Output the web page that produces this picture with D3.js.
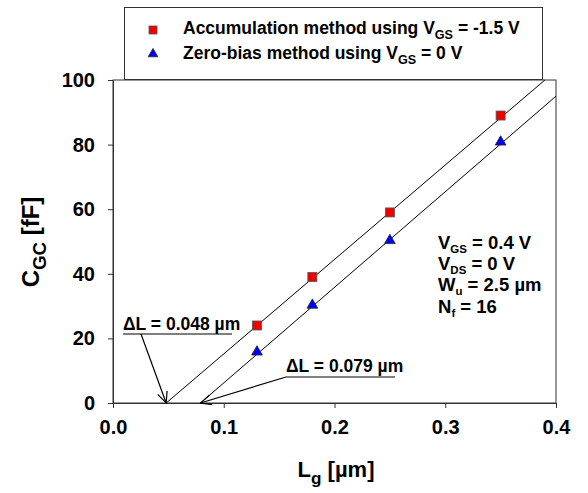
<!DOCTYPE html>
<html>
<head>
<meta charset="utf-8">
<script src="https://cdn.jsdelivr.net/npm/d3@7"></script>
<style>
  body { margin: 0; background: #fff; }
</style>
</head>
<body>
<script>
"use strict";
(function(){
  // data
  const lg = [0.13, 0.18, 0.25, 0.35]
  const accumValues = [24, 39, 59, 89]
  const zeroBiasValues = [15.5, 30, 50, 80.5]
  // fitted lines, as end points [Lg, C]
  const accumFit = [[0.048, 0], [0.39, 100]]
  const zeroBiasFit = [[0.079, 0], [0.4, 95]]
  const xTicks = [0.0, 0.1, 0.2, 0.3, 0.4]
  const yTicks = [0, 20, 40, 60, 80, 100]

  const m = { width: 588, height: 493 }
  const plot = { left: 113, right: 556, top: 80, bottom: 403 }
  const font = "Liberation Sans, Arial, sans-serif"

  const svg = d3.select("body").append("svg")
      .attr("width", m.width)
      .attr("height", m.height)

  const x = d3.scaleLinear().domain([0, 0.4]).range([plot.left, plot.right])
  const y = d3.scaleLinear().domain([0, 100]).range([plot.bottom, plot.top])

  svg.append("defs").append("marker")
      .attr("id", "arrow")
      .attr("viewBox", "0 0 12 12")
      .attr("refX", 11).attr("refY", 6)
      .attr("markerWidth", 12).attr("markerHeight", 12)
      .attr("markerUnits", "userSpaceOnUse")
      .attr("orient", "auto")
    .append("path")
      .attr("d", "M0,1 L11,6 L0,11")
      .attr("fill", "none")
      .attr("stroke", "#000")
      .attr("stroke-width", 1.2)

  // frame
  svg.append("rect")
      .attr("x", plot.left).attr("y", plot.top)
      .attr("width", plot.right - plot.left)
      .attr("height", plot.bottom - plot.top)
      .attr("fill", "none")
      .attr("stroke", "#333")

  svg.append("g")
      .attr("transform", "translate(0," + plot.bottom + ")")
      .call(d3.axisBottom(x).tickValues(xTicks).tickFormat(d3.format(".1f")).tickSizeOuter(0).tickSize(5).tickPadding(12))
  svg.append("g")
      .attr("transform", "translate(" + plot.left + ",0)")
      .call(d3.axisLeft(y).tickValues(yTicks).tickSizeOuter(0).tickSize(5).tickPadding(13))
  svg.selectAll(".tick text")
      .attr("font-size", 20)
      .attr("fill", "#000")
  svg.selectAll(".domain, .tick line").attr("stroke", "#333")

  // fit lines
  const line = d3.line().x(d => x(d[0])).y(d => y(d[1]))
  svg.append("path").datum(accumFit).attr("d", line)
      .attr("fill", "none").attr("stroke", "#000").attr("stroke-width", 1)
  svg.append("path").datum(zeroBiasFit).attr("d", line)
      .attr("fill", "none").attr("stroke", "#000").attr("stroke-width", 1)

  // markers
  svg.selectAll(".sq")
      .data(lg)
      .enter()
      .append("rect")
          .attr("x", d => x(d) - 4.5)
          .attr("y", (d, i) => y(accumValues[i]) - 4.5)
          .attr("width", 9).attr("height", 9)
          .attr("fill", "#ee0000")
          .attr("stroke", "#555").attr("stroke-width", 0.8)
  const tri = d3.symbol().type(d3.symbolTriangle).size(50)
  svg.selectAll(".tri")
      .data(lg)
      .enter()
      .append("path")
          .attr("d", tri)
          .attr("transform", (d, i) => "translate(" + x(d) + "," + (y(zeroBiasValues[i]) - 1) + ")")
          .attr("fill", "#0000ff")
          .attr("stroke", "#222").attr("stroke-width", 0.8)

  // sub-scripted text helper
  function label(g, px, py, size, parts, subScale, drop) {
    const s = subScale || 0.72
    const dd = drop || 0.3
    const t = g.append("text").attr("x", px).attr("y", py).attr("font-size", size)
    parts.forEach(p => {
      if (p.sub) {
        t.append("tspan").attr("dy", size * dd).attr("font-size", size * s).text(p.sub)
        t.append("tspan").attr("dy", -size * dd).text(p.after || "")
      } else {
        t.append("tspan").text(p.text)
      }
    })
    return t
  }

  // annotations
  label(svg, 123, 330, 17.5, [{text: "\u0394L = 0.048 \u00b5m"}])
  svg.append("line").attr("x1", 123).attr("y1", 334).attr("x2", 232).attr("y2", 334).attr("stroke", "#000")
  svg.append("line").attr("x1", 141).attr("y1", 334).attr("x2", x(accumFit[0][0])).attr("y2", plot.bottom)
      .attr("stroke", "#000").attr("stroke-width", 1.2).attr("marker-end", "url(#arrow)")

  label(svg, 286, 372, 17.5, [{text: "\u0394L = 0.079 \u00b5m"}])
  svg.append("line").attr("x1", 286).attr("y1", 377).attr("x2", 395).attr("y2", 377).attr("stroke", "#000")
  svg.append("line").attr("x1", 286).attr("y1", 377).attr("x2", x(zeroBiasFit[0][0])).attr("y2", plot.bottom)
      .attr("stroke", "#000").attr("stroke-width", 1.2).attr("marker-end", "url(#arrow)")

  // conditions
  label(svg, 438, 249, 18.5, [{text: "V"}, {sub: "GS", after: " = 0.4 V"}], 0.62, 0.2)
  label(svg, 438, 270, 18.5, [{text: "V"}, {sub: "DS", after: " = 0 V"}], 0.62, 0.2)
  label(svg, 438, 291, 18.5, [{text: "W"}, {sub: "u", after: " = 2.5 \u00b5m"}], 0.62, 0.2)
  label(svg, 438, 313, 18.5, [{text: "N"}, {sub: "f", after: " = 16"}], 0.62, 0.2)

  // legend
  const lg0 = svg.append("g")
  lg0.append("rect").attr("x", 124.5).attr("y", 7.5).attr("width", 418).attr("height", 72)
      .attr("fill", "#fff").attr("stroke", "#333")
  lg0.append("rect").attr("x", 149).attr("y", 26).attr("width", 8).attr("height", 8)
      .attr("fill", "#ee0000").attr("stroke", "#555").attr("stroke-width", 0.8)
  lg0.append("path").attr("d", d3.symbol().type(d3.symbolTriangle).size(40))
      .attr("transform", "translate(153,54)")
      .attr("fill", "#0000ff").attr("stroke", "#222").attr("stroke-width", 0.8)
  label(lg0, 183, 34, 17.5, [{text: "Accumulation method using V"}, {sub: "GS", after: " = -1.5 V"}])
  label(lg0, 183, 59, 17.5, [{text: "Zero-bias method using V"}, {sub: "GS", after: " = 0 V"}])

  // axis titles
  label(svg, 0, 0, 22, [{text: "L"}, {sub: "g", after: " [\u00b5m]"}], 0.78)
      .attr("x", 336).attr("y", 477).attr("text-anchor", "middle")
  label(svg, 0, 0, 24, [{text: "C"}, {sub: "GC", after: " [fF]"}], 0.78)
      .attr("text-anchor", "middle")
      .attr("transform", "translate(39,242) rotate(-90)")

  svg.selectAll("text")
      .attr("font-family", font)
      .attr("font-weight", "bold")
})();
</script>
</body>
</html>
